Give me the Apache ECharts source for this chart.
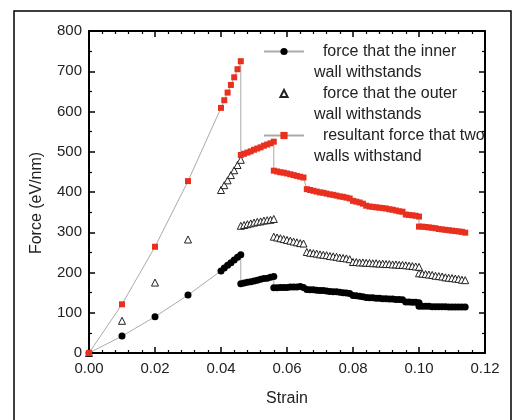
<!DOCTYPE html>
<html>
<head>
<meta charset="utf-8">
<script src="https://cdn.jsdelivr.net/npm/echarts@6/dist/echarts.min.js"></script>
<style>
html,body{margin:0;padding:0;background:#fff;}
#chart{width:512px;height:420px;}
</style>
</head>
<body>
<div id="chart"></div>
<script>
// ---- data ----
var strain = [0, 0.01, 0.02, 0.03,
  0.040, 0.041, 0.042, 0.043, 0.044, 0.045, 0.046,
  0.046, 0.047, 0.048, 0.049, 0.050, 0.051, 0.052, 0.053, 0.054, 0.055, 0.056,
  0.056, 0.057, 0.058, 0.059, 0.060, 0.061, 0.062, 0.063, 0.064, 0.065,
  0.066, 0.067, 0.068, 0.069, 0.070, 0.071, 0.072, 0.073, 0.074, 0.075, 0.076, 0.077, 0.078, 0.079,
  0.080, 0.081, 0.082, 0.083, 0.084,
  0.085, 0.086, 0.087, 0.088, 0.089, 0.090, 0.091, 0.092, 0.093, 0.094, 0.095,
  0.096, 0.097, 0.098, 0.099, 0.100,
  0.100, 0.101, 0.102, 0.103, 0.104, 0.105, 0.106, 0.107, 0.108, 0.109, 0.110, 0.111, 0.112, 0.113, 0.114];

var innerForce = [0, 42, 90, 144,
  204, 211, 218, 224, 231, 238, 244,
  172, 174, 176, 177, 179, 181, 183, 185, 186, 188, 190,
  162, 162, 163, 163, 163, 164, 164, 164, 165, 163,
  158, 157, 157, 156, 155, 155, 154, 153, 152, 152, 151, 150, 149, 148,
  143, 142, 141, 140, 138,
  137, 137, 136, 136, 135, 135, 134, 134, 133, 133, 132,
  127, 127, 126, 126, 125,
  116, 116, 116, 116, 115, 115, 115, 115, 115, 114, 114, 114, 114, 114, 114];

var outerForce = [0, 80, 175, 282,
  405, 417, 429, 442, 454, 467, 480,
  316, 318, 320, 322, 324, 326, 327, 329, 330, 331, 333,
  289, 287, 285, 283, 281, 279, 277, 275, 273, 272,
  251, 249, 248, 247, 245, 244, 243, 241, 240, 239, 237, 236, 235, 233,
  226, 226, 225, 225, 224,
  224, 223, 223, 222, 222, 221, 221, 220, 220, 219, 219,
  218, 217, 216, 215, 214,
  198, 197, 196, 195, 194, 192, 191, 190, 188, 187, 186, 185, 184, 182, 181];

var resultantForce = [0, 121, 264, 427,
  609, 628, 647, 666, 685, 705, 725,
  492, 495, 498, 501, 505, 508, 511, 515, 518, 521, 525,
  453, 451, 449, 448, 446, 444, 442, 440, 438, 436,
  407, 405, 403, 401, 399, 398, 396, 394, 393, 391, 389, 388, 386, 384,
  378, 376, 374, 371, 366,
  364, 363, 362, 361, 360, 359, 357, 356, 354, 352, 351,
  344, 343, 342, 341, 339,
  314, 314, 313, 312, 311, 310, 308, 307, 306, 305, 304, 303, 302, 301, 299];

var seriesNames = ['inner', 'outer', 'resultant'];
var legendLabels = {
  inner: '  force that the inner\nwall withstands',
  outer: '  force that the outer\nwall withstands',
  resultant: '  resultant force that two\nwalls withstand'
};
var xTicks = {min: 0, max: 0.12, interval: 0.02};
var yTicks = {min: 0, max: 800, interval: 100};

function pairs(vals) { return strain.map(function (s, i) { return [s, vals[i]]; }); }

var FONT = '"Liberation Sans", Arial, sans-serif';
var tickStyle = {inside: true, length: 6, lineStyle: {color: '#000', width: 1.5}};
var axisLine = {show: true, onZero: false, lineStyle: {color: '#000', width: 2}};

function xAxis(pos, showLabel) {
  return {
    type: 'value', position: pos, min: xTicks.min, max: xTicks.max, interval: xTicks.interval,
    axisLine: axisLine, axisTick: tickStyle,
    minorTick: {show: true, splitNumber: 5, length: 3, lineStyle: {color: '#000', width: 1.2}},
    splitLine: {show: false}, minorSplitLine: {show: false},
    axisLabel: {show: showLabel, fontSize: 15, color: '#222', fontFamily: FONT, margin: 8,
      formatter: function (v) { return v.toFixed(2); }},
    name: showLabel ? 'Strain' : '', nameLocation: 'middle', nameGap: 38,
    nameTextStyle: {fontSize: 16, color: '#222', fontFamily: FONT}
  };
}
function yAxis(pos, showLabel) {
  return {
    type: 'value', position: pos, min: yTicks.min, max: yTicks.max, interval: yTicks.interval,
    axisLine: axisLine, axisTick: tickStyle,
    minorTick: {show: true, splitNumber: 2, length: 3, lineStyle: {color: '#000', width: 1.2}},
    splitLine: {show: false}, minorSplitLine: {show: false},
    axisLabel: {show: showLabel, fontSize: 15, color: '#222', fontFamily: FONT, margin: 7},
    name: showLabel ? 'Force (eV/nm)' : '', nameLocation: 'middle', nameGap: 44,
    nameTextStyle: {fontSize: 16, color: '#222', fontFamily: FONT, padding: [0, 22, 0, 0]}
  };
}

var chart = echarts.init(document.getElementById('chart'), null, {renderer: 'canvas'});
chart.setOption({
  animation: false,
  backgroundColor: '#fff',
  grid: {left: 89, right: 27, top: 31, bottom: 67, containLabel: false},
  xAxis: [xAxis('bottom', true), xAxis('top', false)],
  yAxis: [yAxis('left', true), yAxis('right', false)],
  legend: {
    orient: 'vertical', left: 263, top: 20, padding: 0,
    itemWidth: 40, itemHeight: 9, itemGap: -21,
    data: seriesNames,
    formatter: function (n) { return '\n' + legendLabels[n]; },
    textStyle: {fontSize: 16, lineHeight: 21, color: '#222', fontFamily: FONT, padding: [0, 0, 0, 5]}
  },
  graphic: [{
    type: 'rect', silent: true, z: 100,
    shape: {x: 14, y: 11, width: 497, height: 430},
    style: {fill: null, stroke: '#000', lineWidth: 1.5}
  }],
  series: [
    {
      name: seriesNames[0], type: 'line', data: pairs(innerForce),
      symbol: 'circle', symbolSize: 7, showAllSymbol: true,
      itemStyle: {color: '#000'},
      lineStyle: {color: '#aaa', width: 1}, z: 3
    },
    {
      name: seriesNames[1], type: 'line', data: pairs(outerForce),
      symbol: 'triangle', symbolSize: 7, showAllSymbol: true,
      itemStyle: {color: '#fff', borderColor: '#222', borderWidth: 1},
      lineStyle: {width: 0, opacity: 0}, z: 2
    },
    {
      name: seriesNames[2], type: 'line', data: pairs(resultantForce),
      symbol: 'rect', symbolSize: 6, showAllSymbol: true,
      itemStyle: {color: '#e8301e'},
      lineStyle: {color: '#aaa', width: 1}, z: 4
    }
  ]
});
</script>
</body>
</html>
